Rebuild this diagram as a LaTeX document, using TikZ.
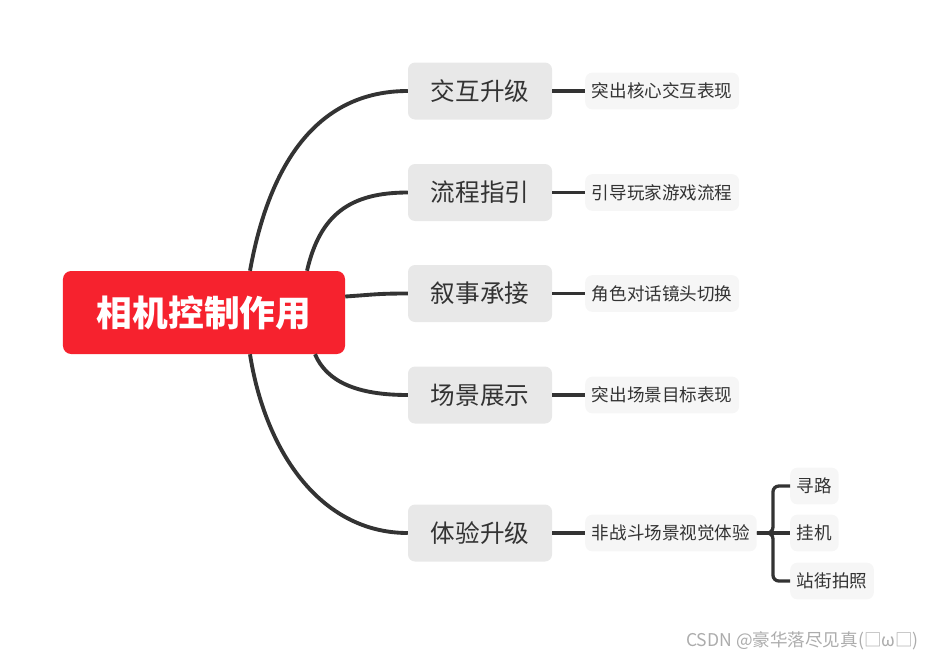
\documentclass[tikz,border=0pt]{standalone}
\usepackage{fontspec}
\usetikzlibrary{calc}
\setmainfont{Noto Sans CJK SC}
\definecolor{mapred}{RGB}{246,34,46}
\definecolor{mapgray}{RGB}{232,232,232}
\definecolor{maplight}{RGB}{246,246,246}
\definecolor{mapline}{RGB}{51,51,51}
\definecolor{markgray}{RGB}{172,172,172}

\begin{document}
\begin{tikzpicture}[x=0.03cm,y=-0.03cm,
    rootbox/.style={fill=mapred,text=white,rounded corners=7,minimum width=8.46cm,minimum height=2.49cm,font=\fontsize{30.5}{33}\selectfont\bfseries},
    topic/.style={fill=mapgray,text=mapline,rounded corners=6,minimum width=4.32cm,minimum height=1.71cm,font=\fontsize{21}{24}\selectfont},
    sub/.style={fill=maplight,text=mapline,rounded corners=6,anchor=west,inner xsep=0.2cm,minimum height=1.1cm,font=\fontsize{15}{18}\selectfont},
    branch/.style={draw=mapline,line width=3.3pt},
    twig/.style={draw=mapline,line width=2.8pt}]
  \useasboundingbox (0,0) rectangle (937,662);
  \node[rootbox] (root) at (204,312.5) {相机控制作用};
  % main topics and their notes
  \foreach \y/\n/\a/\b in {91/1/交互升级/突出核心交互表现,192.5/2/流程指引/引导玩家游戏流程,293.5/3/叙事承接/角色对话镜头切换,395/4/场景展示/突出场景目标表现,533/5/体验升级/非战斗场景视觉体验}{
    \node[topic] (t\n) at (480,\y) {\a};
    \node[sub] (s\n) at (585,\y) {\b};
    \draw[twig] (t\n.east) -- (s\n.west);
  }
  \node[sub] (f1) at (790,486) {寻路};
  \node[sub] (f2) at (790,533) {挂机};
  \node[sub] (f3) at (790,581) {站街拍照};
  % branches from the root
  \draw[branch] ($(root.north)+(46,0)$) .. controls +(20,-111) and +(-88,0) .. (t1.west);
  \draw[branch] ($(root.north)+(103,0)$) .. controls +(13,-56) and +(-58,0) .. (t2.west);
  \draw[branch] ($(root.east)+(0,-16)$) .. controls +(30,-2) and +(-30,0) .. (t3.west);
  \draw[branch] ($(root.south)+(111,0)$) .. controls +(12,28) and +(-50,0) .. (t4.west);
  \draw[branch] ($(root.south)+(46,0)$) .. controls +(15,96) and +(-88,0) .. (t5.west);
  % bracket
  \draw[twig,rounded corners=5] (s5.east) -- ++(16,0) |- (f1.west);
  \draw[twig,rounded corners=5] (s5.east) -- ++(16,0) |- (f3.west);
  \draw[twig] (s5.east) -- (f2.west);
  \node[anchor=east,text=markgray,font=\fontsize{15}{17}\selectfont] (mark) at (923,641) {CSDN @豪华落尽见真(□ω□)};
\end{tikzpicture}
\end{document}
